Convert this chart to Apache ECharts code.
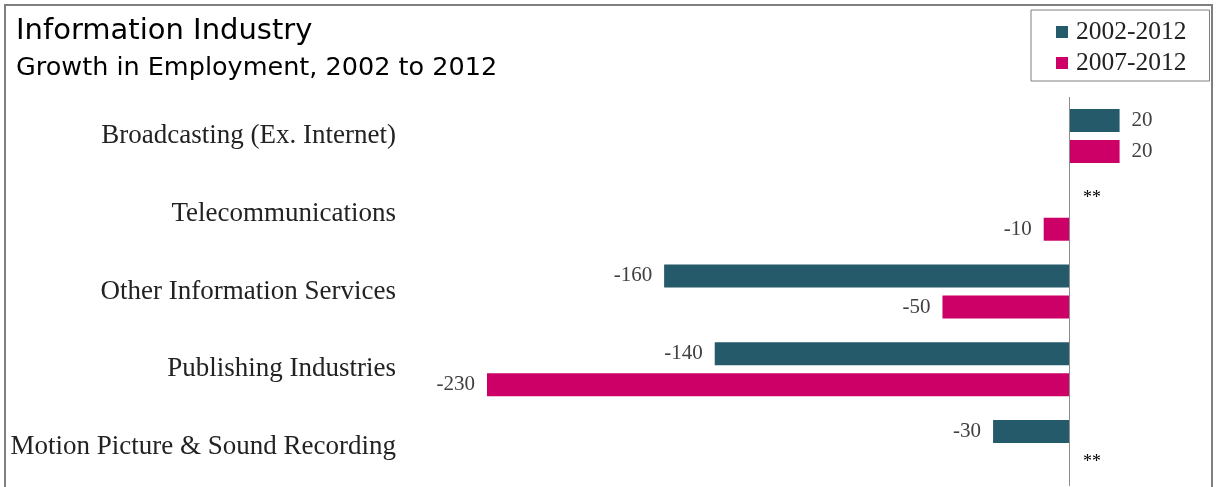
<!DOCTYPE html>
<html>
<head>
<meta charset="utf-8">
<script src="https://cdn.jsdelivr.net/npm/echarts@6/dist/echarts.min.js"></script>
<style>
  html, body { margin: 0; padding: 0; background: #fff; }
  #chart { width: 1216px; height: 487px; }
</style>
</head>
<body>
<div id="chart"></div>
<script>
// Industry groups, top to bottom
const categories = [
  'Broadcasting (Ex. Internet)',
  'Telecommunications',
  'Other Information Services',
  'Publishing Industries',
  'Motion Picture & Sound Recording'
];
// Change in employment (thousands); null = not available (shown as **)
const growth2002to2012 = [20, null, -160, -140, -30];
const growth2007to2012 = [20, -10, -50, -230, null];
const seriesNames = ['2002-2012', '2007-2012'];

const TEAL = '#245a69';
const MAGENTA = '#cc0066';
const SERIF = '"Liberation Serif", "DejaVu Serif", serif';
const SANS = '"DejaVu Sans", "Open Sans", sans-serif';

function toBarData(values) {
  return values.map(v => {
    if (v == null) {
      return {
        value: 0,
        label: {
          position: 'right', distance: 14, formatter: '**',
          fontSize: 18, color: '#000'
        }
      };
    }
    return { value: v, label: { position: v < 0 ? 'left' : 'right' } };
  });
}

const valueLabel = {
  show: true,
  distance: 12,
  fontFamily: SERIF,
  fontSize: 21,
  color: '#404040',
  formatter: p => String(p.value)
};

const chart = echarts.init(document.getElementById('chart'), null, { renderer: 'canvas' });
chart.setOption({
  animation: false,
  backgroundColor: '#fff',
  title: {
    text: 'Information Industry',
    subtext: 'Growth in Employment, 2002 to 2012',
    left: 11,
    top: 12,
    itemGap: 9,
    textStyle: { fontFamily: SANS, fontSize: 29, fontWeight: 'normal', color: '#000' },
    subtextStyle: { fontFamily: SANS, fontSize: 25.5, color: '#000' }
  },
  legend: {
    orient: 'vertical',
    left: 1031,
    top: 10,
    padding: [9, 23, 5, 25],
    itemGap: 5,
    itemWidth: 12,
    itemHeight: 12,
    icon: 'rect',
    borderColor: '#808080',
    borderWidth: 1,
    backgroundColor: '#fff',
    data: seriesNames,
    textStyle: { fontFamily: SERIF, fontSize: 25.5, color: '#222', padding: [0, 0, 0, 3] }
  },
  grid: { left: 487, right: 20.5, top: 97, height: 389, containLabel: false },
  xAxis: {
    type: 'value',
    min: -230,
    max: 50,
    show: false
  },
  yAxis: {
    type: 'category',
    data: categories,
    inverse: true,
    axisLine: { show: false, onZero: false },
    axisTick: { show: false },
    axisLabel: { margin: 91, fontFamily: SERIF, fontSize: 27, color: '#222' }
  },
  series: [
    {
      name: seriesNames[0],
      type: 'bar',
      data: toBarData(growth2002to2012),
      itemStyle: { color: TEAL },
      barWidth: 23,
      barGap: '35%',
      label: valueLabel,
      markLine: {
        silent: true,
        symbol: 'none',
        label: { show: false },
        lineStyle: { color: '#8c8c8c', width: 1, type: 'solid' },
        data: [{ xAxis: 0 }]
      }
    },
    {
      name: seriesNames[1],
      type: 'bar',
      data: toBarData(growth2007to2012),
      itemStyle: { color: MAGENTA },
      barWidth: 23,
      barGap: '35%',
      label: valueLabel
    }
  ],
  graphic: [{
    type: 'rect',
    z: -1,
    shape: { x: 5, y: 5, width: 1207, height: 500 },
    style: { fill: null, stroke: '#7f7f7f', lineWidth: 2 }
  }]
});
</script>
</body>
</html>
